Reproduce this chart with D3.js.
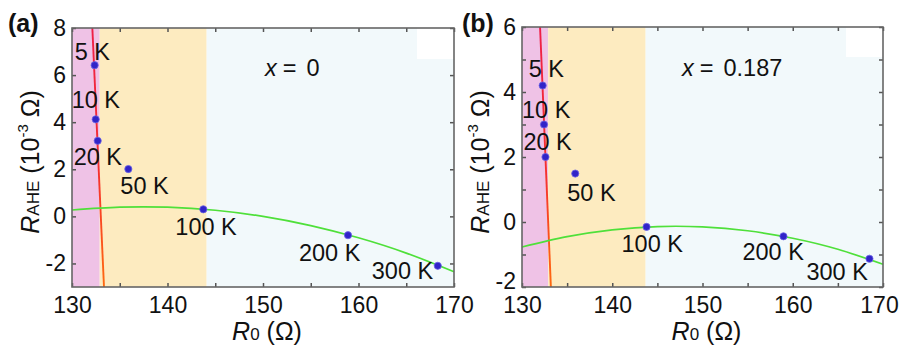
<!DOCTYPE html>
<html>
<head>
<meta charset="utf-8">
<script src="https://cdn.jsdelivr.net/npm/d3@7"></script>
<style>
  body { margin: 0; background: #fff; }
  svg { display: block; font-family: "Liberation Sans", Arial, sans-serif; }
</style>
</head>
<body>
<div class="chart"></div>
<script>
// temperature labels shared by both panels
let tempLabels = ['5 K', '10 K', '20 K', '50 K', '100 K', '200 K', '300 K'];

// panel (a), x = 0
let r0A = [132.37, 132.48, 132.69, 135.9, 143.75, 158.9, 168.3];
let rAheA = [6.42, 4.12, 3.21, 2.01, 0.30, -0.80, -2.10];
let fitR0 = [130, 135, 140, 145, 150, 155, 160, 165, 170];
let fitA = [0.27, 0.39, 0.39, 0.26, 0.00, -0.39, -0.91, -1.56, -2.35];
let lineR0A = [132.13, 133.35];
let lineRaheA = [8, -3];
let bandsA = [130, 132.9, 144.1, 170];

// panel (b), x = 0.187
let r0B = [132.29, 132.44, 132.6, 135.9, 143.8, 158.97, 168.5];
let rAheB = [4.2, 3.0, 2.0, 1.49, -0.15, -0.44, -1.13];
let fitB = [-0.77, -0.45, -0.24, -0.14, -0.15, -0.27, -0.50, -0.84, -1.30];
let lineR0B = [132.0, 133.2];
let lineRaheB = [6, -2];
let bandsB = [130, 132.9, 143.7, 170];

let xTicks = [130, 135, 140, 145, 150, 155, 160, 165, 170];
let yTicksA = [-2, 0, 2, 4, 6, 8];
let yTicksB = [-2, -1, 0, 1, 2, 3, 4, 5, 6];

let bandColors = ['#efc2e6', '#fdebc0', '#f2f9fb'];

let svg = d3.select('.chart')
  .append('svg')
    .attr('width', 899)
    .attr('height', 348);

let defs = svg.append('defs');

function drawPanel(p) {
  let g = svg.append('g')
    .attr('transform', `translate(${p.left}, ${p.top})`);
  let w = p.width, h = p.height;

  let x = d3.scaleLinear().domain([130, 170]).range([0, w]);
  let y = d3.scaleLinear().domain(p.yDomain).range([h, 0]);

  // shaded regions
  g.selectAll('.band')
    .data(bandColors)
    .enter().append('rect')
      .attr('x', (d, i) => x(p.bands[i]))
      .attr('width', (d, i) => x(p.bands[i + 1]) - x(p.bands[i]))
      .attr('y', 0)
      .attr('height', h)
      .style('fill', d => d);

  // white patch in the top right corner of the original
  g.append('rect')
    .attr('x', w - 37).attr('y', 0)
    .attr('width', 37).attr('height', p.patchH)
    .style('fill', '#fff');

  // red -> orange steep line
  let gid = 'grad' + p.name;
  let grad = defs.append('linearGradient')
    .attr('id', gid)
    .attr('gradientUnits', 'userSpaceOnUse')
    .attr('x1', 0).attr('y1', 0)
    .attr('x2', 0).attr('y2', h);
  grad.append('stop').attr('offset', '0%').attr('stop-color', '#ee1f48');
  grad.append('stop').attr('offset', '55%').attr('stop-color', '#f5302e');
  grad.append('stop').attr('offset', '100%').attr('stop-color', '#ff6a10');

  let steep = p.lineR0.map((d, i) => [d, p.lineRahe[i]]);
  g.append('path')
    .datum(steep)
    .attr('d', d3.line().x(d => x(d[0])).y(d => y(d[1])))
    .style('fill', 'none')
    .style('stroke', `url(#${gid})`)
    .style('stroke-width', 1.9);

  // green fit curve
  let fit = fitR0.map((d, i) => [d, p.fit[i]]);
  g.append('path')
    .datum(fit)
    .attr('d', d3.line().curve(d3.curveNatural).x(d => x(d[0])).y(d => y(d[1])))
    .style('fill', 'none')
    .style('stroke', '#4fe03a')
    .style('stroke-width', 1.7);

  // data points
  let pts = p.r0.map((d, i) => ({ x: d, y: p.rahe[i], label: tempLabels[i], off: p.offsets[i] }));
  g.selectAll('.pt')
    .data(pts)
    .enter().append('circle')
      .attr('cx', d => x(d.x))
      .attr('cy', d => y(d.y))
      .attr('r', 3.6)
      .style('fill', '#3124c8')
      .style('stroke', '#6c64e4')
      .style('stroke-width', 0.8);

  g.selectAll('.lbl')
    .data(pts)
    .enter().append('text')
      .attr('x', d => x(d.x) + d.off[0])
      .attr('y', d => y(d.y) + d.off[1])
      .style('font-size', '23.5px')
      .style('fill', '#111')
      .text(d => d.label);

  // x = ... annotation
  let ann = g.append('text')
    .attr('x', p.annX - p.left)
    .attr('y', 76 - p.top)
    .style('font-size', '23.5px')
    .style('fill', '#111');
  ann.append('tspan').style('font-style', 'italic').text('x');
  ann.append('tspan').attr('dx', 6).text('=');
  ann.append('tspan').attr('dx', 10).text(p.annText);

  // axes with inward ticks
  let xAxis = d3.axisBottom(x)
    .tickValues(xTicks)
    .tickSizeInner(-4)
    .tickSizeOuter(0)
    .tickPadding(10)
    .tickFormat(d => d % 10 === 0 ? d : '');
  let xAxisTop = d3.axisTop(x)
    .tickValues(xTicks).tickSizeInner(-4).tickSizeOuter(0).tickFormat('');
  let yAxis = d3.axisLeft(y)
    .tickValues(p.yTicks)
    .tickSizeInner(-4)
    .tickSizeOuter(0)
    .tickPadding(6)
    .tickFormat(d => d % 2 === 0 ? d : '');
  let yAxisRight = d3.axisRight(y)
    .tickValues(p.yTicks).tickSizeInner(-4).tickSizeOuter(0).tickFormat('');

  let axes = [
    g.append('g').attr('transform', `translate(0, ${h})`).call(xAxis),
    g.append('g').call(xAxisTop),
    g.append('g').call(yAxis),
    g.append('g').attr('transform', `translate(${w}, 0)`).call(yAxisRight)
  ];
  axes.forEach(a => {
    a.select('.domain').remove();
    a.selectAll('line').style('stroke', '#555').style('stroke-width', 1.5);
    a.selectAll('text')
      .style('font-size', '23px')
      .style('font-family', '"Liberation Sans", Arial, sans-serif')
      .style('fill', '#111');
  });
  // keep the last x label inside the page, lift the lowest y label a bit
  axes[0].selectAll('text').filter(d => d === 170).attr('dx', p.lastDx);
  axes[2].selectAll('text').filter(d => d === -2).attr('dy', p.lowDy);

  // frame
  g.append('rect')
    .attr('width', w).attr('height', h)
    .style('fill', 'none')
    .style('stroke', '#666')
    .style('stroke-width', 1.6);

  // axis titles
  let xt = g.append('text')
    .attr('x', w / 2 + 4)
    .attr('y', 340 - p.top)
    .attr('text-anchor', 'middle')
    .style('font-size', '25px')
    .style('fill', '#111');
  xt.append('tspan').style('font-style', 'italic').text('R');
  xt.append('tspan').style('font-size', '17px').text('0');
  xt.append('tspan').text(' (Ω)');

  let yt = g.append('text')
    .attr('transform', `translate(${p.yTitleX - p.left}, ${162 - p.top}) rotate(-90)`)
    .attr('text-anchor', 'middle')
    .style('font-size', '25px')
    .style('fill', '#111');
  yt.append('tspan').style('font-style', 'italic').text('R');
  yt.append('tspan').style('font-size', '17px').text('AHE');
  yt.append('tspan').text(' (10');
  yt.append('tspan').style('font-size', '15px').attr('dy', -11).text('-3');
  yt.append('tspan').attr('dy', 11).text(' Ω)');

  // panel letter
  svg.append('text')
    .attr('x', p.letterX)
    .attr('y', 32)
    .style('font-size', '25px')
    .style('font-weight', 'bold')
    .style('fill', '#111')
    .text(p.letter);
}

drawPanel({
  name: 'a', letter: '(a)', letterX: 8,
  left: 72, top: 28, width: 382, height: 259,
  yDomain: [-3, 8], yTicks: yTicksA,
  r0: r0A, rahe: rAheA, fit: fitA, lineR0: lineR0A, lineRahe: lineRaheA, bands: bandsA,
  offsets: [[-20, -5], [-24, -11], [-24, 24], [-8, 25], [-28, 26], [-49, 26], [-66, 13]],
  annX: 265, annText: '0', yTitleX: 39, patchH: 31, lastDx: 0, lowDy: '0.32em'
});

drawPanel({
  name: 'b', letter: '(b)', letterX: 462,
  left: 522, top: 27, width: 361, height: 260,
  yDomain: [-2, 6], yTicks: yTicksB,
  r0: r0B, rahe: rAheB, fit: fitB, lineR0: lineR0B, lineRahe: lineRaheB, bands: bandsB,
  offsets: [[-14, -9], [-22, -7], [-22, -7], [-8, 27], [-25, 25], [-41, 24], [-63, 21]],
  annX: 682, annText: '0.187', yTitleX: 489, patchH: 30, lastDx: -4, lowDy: '0.08em'
});
</script>
</body>
</html>
